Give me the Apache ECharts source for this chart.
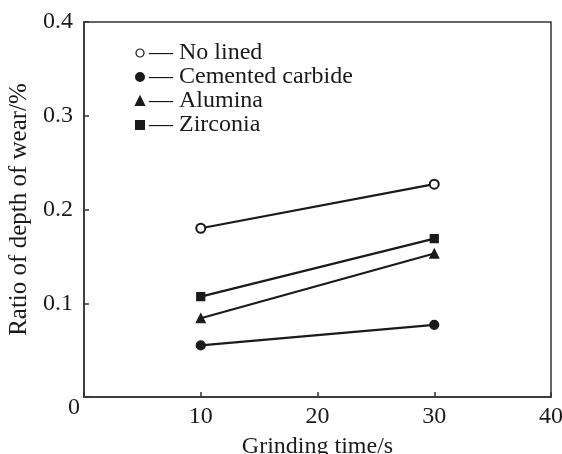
<!DOCTYPE html>
<html>
<head>
<meta charset="utf-8">
<script src="https://cdn.jsdelivr.net/npm/echarts@6/dist/echarts.min.js"></script>
<style>
  html, body { margin: 0; padding: 0; background: #fff; }
  #chart { width: 562px; height: 454px; }
</style>
</head>
<body>
<div id="chart"></div>
<script>
// grinding time (s)
var times = [10, 30];
var seriesNames = ['No lined', 'Cemented carbide', 'Alumina', 'Zirconia'];
// ratio of depth of wear (%)
var noLined = [0.180, 0.227];
var cemented = [0.055, 0.077];
var alumina = [0.084, 0.153];
var zirconia = [0.107, 0.169];

var font = 'Liberation Serif';
var ink = '#1a1a1a';

function pairs(values) {
  return times.map(function(t, i) {
    return [t, values[i]];
  });
}

function makeSeries(name, values, symbol, size) {
  return {
    name: name,
    type: 'line',
    data: pairs(values),
    symbol: symbol,
    symbolSize: size,
    showAllSymbol: true,
    lineStyle: { color: ink, width: 2.2 },
    itemStyle: { color: ink, borderColor: ink, borderWidth: 1.2 },
    emphasis: { disabled: true }
  };
}

var chart = echarts.init(document.getElementById('chart'));

chart.setOption({
  backgroundColor: '#fff',
  animation: false,
  grid: {
    left: 84, right: 11, top: 22, bottom: 57,
    outerBoundsMode: 'none',
    containLabel: false,
    show: true, borderColor: '#333', borderWidth: 1.5
  },
  legend: {
    orient: 'vertical',
    left: 130,
    top: 36,
    itemWidth: 8,
    itemHeight: 8,
    itemGap: 0,
    selectedMode: false,
    textStyle: { fontFamily: font, fontSize: 24, color: ink, lineHeight: 23.5 },
    formatter: function(name) {
      return '\u2014 ' + name;
    },
    data: [
      { name: seriesNames[0], icon: 'circle', itemStyle: { color: '#fff', borderColor: ink, borderWidth: 1.2 } },
      { name: seriesNames[1], icon: 'circle', itemStyle: { color: ink } },
      { name: seriesNames[2], icon: 'triangle', itemStyle: { color: ink } },
      { name: seriesNames[3], icon: 'rect', itemStyle: { color: ink } }
    ]
  },
  xAxis: {
    type: 'value',
    min: 0, max: 40, interval: 10,
    name: 'Grinding time/s',
    nameLocation: 'middle',
    nameGap: 38,
    nameTextStyle: { fontFamily: font, fontSize: 24, color: ink },
    axisLine: { show: true, lineStyle: { color: '#333', width: 1.5 } },
    axisTick: { show: true, inside: true, length: 5, lineStyle: { color: '#333', width: 1.5 } },
    axisLabel: {
      fontFamily: font, fontSize: 24, color: ink, margin: 8,
      formatter: function(v) { return v === 0 ? '' : String(v); }
    },
    splitLine: { show: false }
  },
  yAxis: {
    type: 'value',
    min: 0, max: 0.4, interval: 0.1,
    name: 'Ratio of depth of wear/%',
    nameLocation: 'middle',
    nameGap: 50,
    nameTextStyle: { fontFamily: font, fontSize: 25, color: ink },
    axisLine: { show: true, lineStyle: { color: '#333', width: 1.5 } },
    axisTick: { show: true, inside: true, length: 5, lineStyle: { color: '#333', width: 1.5 } },
    axisLabel: {
      fontFamily: font, fontSize: 24, color: ink, margin: 4,
      formatter: function(v) {
        return v === 0 ? '{z|0}' : '{n|' + v.toFixed(1) + '}';
      },
      rich: {
        z: { fontFamily: font, fontSize: 24, color: ink, padding: [22, 0, 0, 0] },
        n: { fontFamily: font, fontSize: 24, color: ink, padding: [0, 7, 0, 0] }
      }
    },
    splitLine: { show: false }
  },
  series: [
    makeSeries(seriesNames[0], noLined, 'emptyCircle', 9),
    makeSeries(seriesNames[1], cemented, 'circle', 9),
    makeSeries(seriesNames[2], alumina, 'triangle', 9),
    makeSeries(seriesNames[3], zirconia, 'rect', 8)
  ]
});
</script>
</body>
</html>
